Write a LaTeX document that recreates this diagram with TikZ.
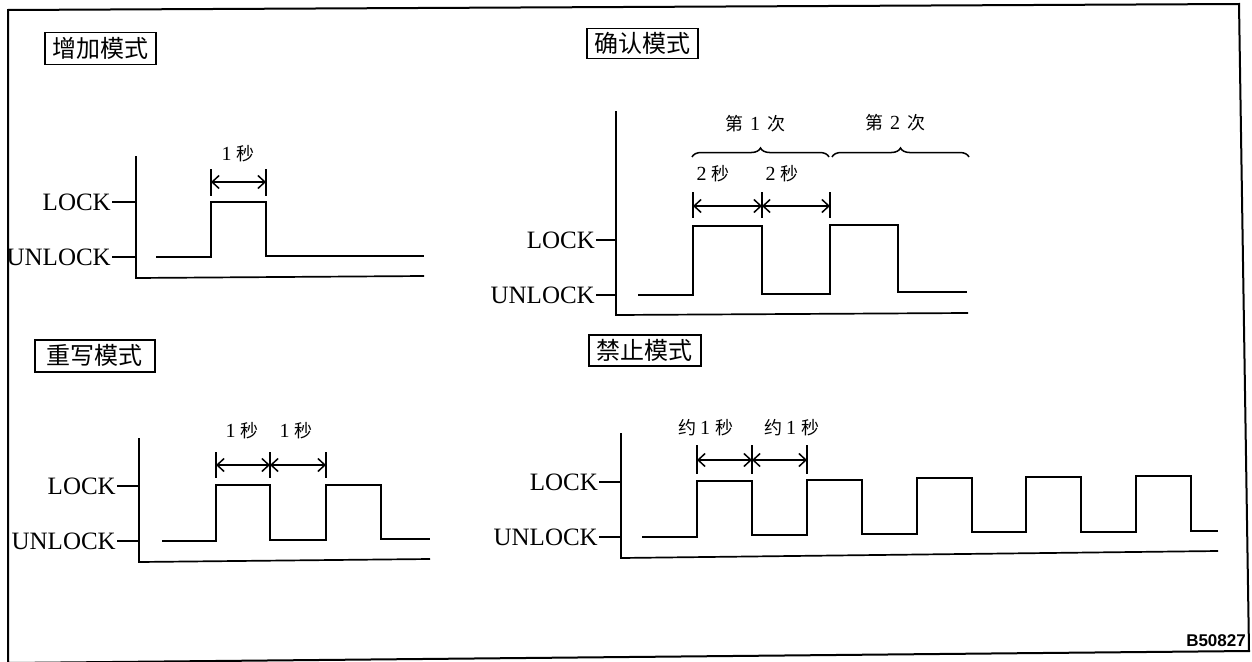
\documentclass[tikz,border=0pt]{standalone}
\usepackage{fontspec}
\setmainfont{Liberation Serif}
\newfontfamily\cjk{Noto Sans CJK SC}
\newfontfamily\codefont{Liberation Sans}
\usetikzlibrary{arrows.meta,decorations.pathreplacing}
\tikzset{
  ln/.style={line width=1.7pt, line join=miter},
  titlebox/.style={draw, line width=1.5pt, inner sep=0pt, anchor=north west,
    font=\cjk\fontsize{24}{24}\selectfont},
  lvl/.style={font=\fontsize{25}{25}\selectfont, anchor=east, inner sep=1pt},
  dimline/.style={line width=1.5pt,
    {Straight Barb[length=7pt,width=13pt,line width=1.5pt]}-{Straight Barb[length=7pt,width=13pt,line width=1.5pt]}},
  ticks/.style={line width=1.5pt},
  lbl/.style={font=\fontsize{20}{20}\selectfont, inner sep=0pt},
  brc/.style={line width=1.5pt, decorate, decoration={brace, amplitude=9pt}},
}
\newcommand{\miaochar}{{\cjk\fontsize{18}{18}\selectfont 秒}}
\newcommand{\yuechar}{{\cjk\fontsize{18}{18}\selectfont 约}}
\newcommand{\dichar}{{\cjk\fontsize{18}{18}\selectfont 第}}
\newcommand{\cichar}{{\cjk\fontsize{18}{18}\selectfont 次}}
\begin{document}
\begin{tikzpicture}[x=1pt,y=-1pt]
\useasboundingbox (0,0) rectangle (1252,661);
\fill[white] (0,0) rectangle (1252,661);
% frame
\draw[line width=2pt] (8,10) -- (1239,4) -- (1249,651) -- (8,663) -- cycle;

% ---------- panel 1: 增加模式 ----------
\node[titlebox, minimum width=111, minimum height=32] (T1) at (44,32) {增加模式};
\draw[ln] (136,156) -- (136,278) -- (424,276);
\node[lvl] (L1) at (112,202) {LOCK};
\node[lvl] (U1) at (112,257) {UNLOCK};
\draw[ln] (L1.east) -- (136,202);
\draw[ln] (U1.east) -- (136,257);
\draw[ln] (156,257) -- (211,257) -- (211,202) -- (266,202) -- (266,256) -- (424,256);
\draw[ticks] (211,169) -- (211,196) (266,169) -- (266,196);
\draw[dimline] (211,182) -- (266,182);
\node[lbl] (D1) at (238,154) {1 \miaochar};

% ---------- panel 2: 确认模式 ----------
\node[titlebox, minimum width=111, minimum height=30] (T2) at (586,28) {确认模式};
\draw[ln] (616,111) -- (616,315) -- (968,313);
\node[lvl] (L2) at (596,240) {LOCK};
\node[lvl] (U2) at (596,295) {UNLOCK};
\draw[ln] (L2.east) -- (616,240);
\draw[ln] (U2.east) -- (616,295);
\draw[ln] (638,295) -- (693,295) -- (693,226) -- (762,226) -- (762,294) -- (830,294)
  -- (830,225) -- (898,225) -- (898,292) -- (967,292);
\draw[ticks] (693,192) -- (693,218) (762,192) -- (762,218) (830,192) -- (830,218);
\draw[dimline] (693,206) -- (762,206);
\draw[dimline] (762,206) -- (830,206);
\node[lbl] (D2a) at (713,174) {2 \miaochar};
\node[lbl] (D2b) at (782,174) {2 \miaochar};
\draw[brc] (692,157) -- (829,157);
\draw[brc] (832,157) -- (969,157);
\node[lbl] (C1) at (755,124) {\dichar\hspace{7pt}1\hspace{7pt}\cichar};
\node[lbl] (C2) at (895,123) {\dichar\hspace{7pt}2\hspace{7pt}\cichar};

% ---------- panel 3: 重写模式 ----------
\node[titlebox, minimum width=120, minimum height=32] (T3) at (34,339) {重写模式};
\draw[ln] (139,438) -- (139,562) -- (430,559);
\node[lvl] (L3) at (117,486) {LOCK};
\node[lvl] (U3) at (117,541) {UNLOCK};
\draw[ln] (L3.east) -- (139,486);
\draw[ln] (U3.east) -- (139,541);
\draw[ln] (162,541) -- (216,541) -- (216,485) -- (270,485) -- (270,540) -- (326,540)
  -- (326,485) -- (381,485) -- (381,539) -- (430,539);
\draw[ticks] (216,452) -- (216,478) (270,452) -- (270,478) (326,452) -- (326,478);
\draw[dimline] (216,465) -- (270,465);
\draw[dimline] (270,465) -- (326,465);
\node[lbl] (D3a) at (242,431) {1 \miaochar};
\node[lbl] (D3b) at (296,431) {1 \miaochar};

% ---------- panel 4: 禁止模式 ----------
\node[titlebox, minimum width=112, minimum height=31] (T4) at (588,334) {禁止模式};
\draw[ln] (621,433) -- (621,558) -- (1218,551);
\node[lvl] (L4) at (599,482) {LOCK};
\node[lvl] (U4) at (599,537) {UNLOCK};
\draw[ln] (L4.east) -- (621,482);
\draw[ln] (U4.east) -- (621,537);
\draw[ln] (642,537) -- (697,537) -- (697,481) -- (752,481) -- (752,535) -- (807,535)
  -- (807,480) -- (862,480) -- (862,534) -- (917,534) -- (917,478) -- (972,478)
  -- (972,532) -- (1026,532) -- (1026,477) -- (1081,477) -- (1081,532) -- (1136,532)
  -- (1136,476) -- (1191,476) -- (1191,531) -- (1218,531);
\draw[ticks] (697,445) -- (697,474) (752,445) -- (752,474) (807,445) -- (807,474);
\draw[dimline] (697,460) -- (752,460);
\draw[dimline] (752,460) -- (807,460);
\node[lbl] (D4a) at (706,428) {\yuechar\,1 \miaochar};
\node[lbl] (D4b) at (792,428) {\yuechar\,1 \miaochar};

% code
\node[font=\codefont\bfseries\fontsize{17}{17}\selectfont, anchor=south east, inner sep=0pt] (code) at (1246,647) {B50827};
\end{tikzpicture}
\end{document}
